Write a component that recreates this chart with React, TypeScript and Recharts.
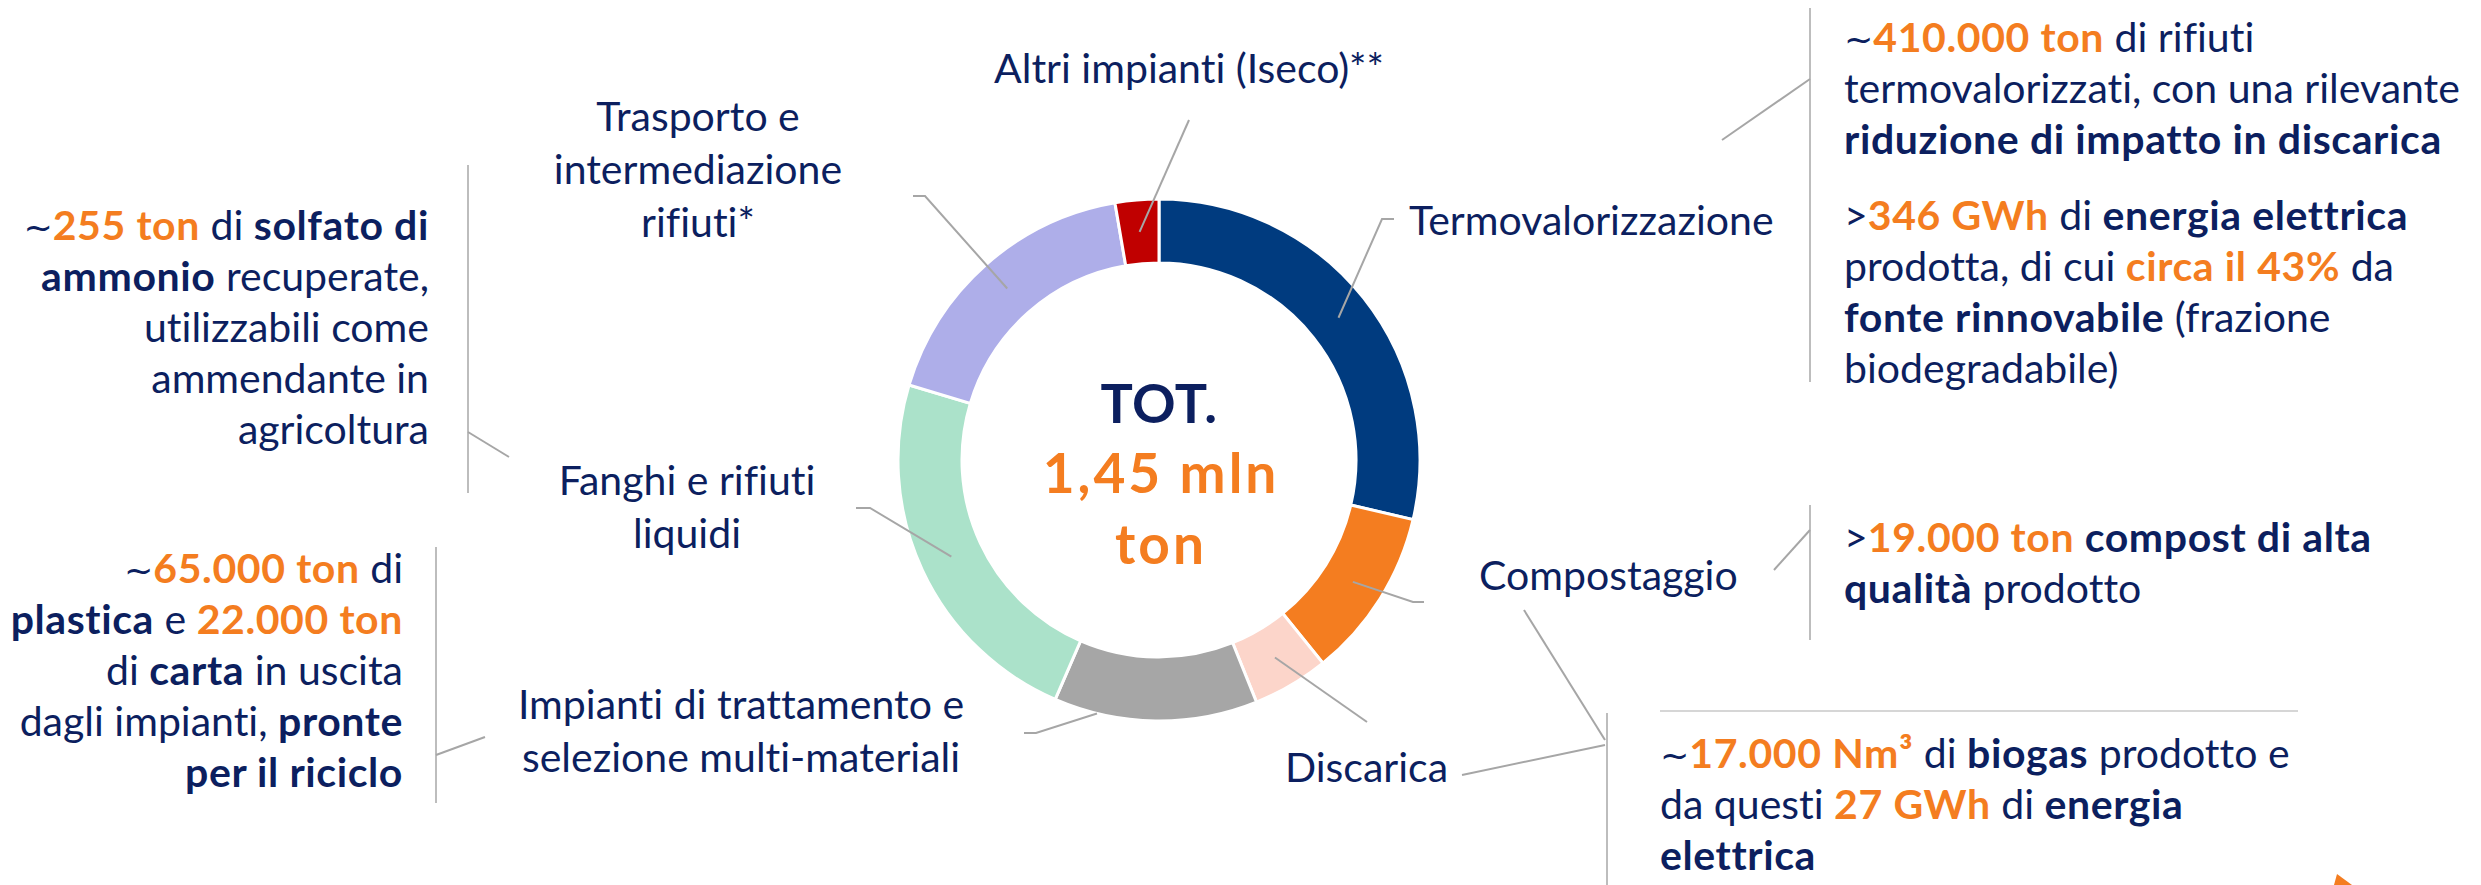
import React from "react";
import { Cell, Pie, PieChart } from "recharts";

const segmentNames = [
  "Termovalorizzazione",
  "Compostaggio",
  "Discarica",
  "Impianti di trattamento e selezione multi-materiali",
  "Fanghi e rifiuti liquidi",
  "Trasporto e intermediazione rifiuti*",
  "Altri impianti (Iseco)**",
];

const segmentValues = [414, 152, 68, 182, 334, 255, 39];

const segmentColors = [
  "#003b7f",
  "#f47d20",
  "#fcd5ca",
  "#a6a6a6",
  "#abe2ca",
  "#aeaee9",
  "#c00000",
];

const segmentLabelLines = [
  ["Termovalorizzazione"],
  ["Compostaggio"],
  ["Discarica"],
  ["Impianti di trattamento e", "selezione multi-materiali"],
  ["Fanghi e rifiuti", "liquidi"],
  ["Trasporto e", "intermediazione", "rifiuti*"],
  ["Altri impianti (Iseco)**"],
];

const totalLines = ["TOT.", "1,45 mln", "ton"];

type Run = [string, "n" | "b" | "o"];

const noteTermo: Run[][] = [
  [["~", "n"], ["410.000 ton", "o"], [" di rifiuti", "n"]],
  [["termovalorizzati, con una rilevante", "n"]],
  [["riduzione di impatto in discarica", "b"]],
];

const noteEnergia: Run[][] = [
  [[">", "n"], ["346 GWh", "o"], [" di ", "n"], ["energia elettrica", "b"]],
  [["prodotta, di cui ", "n"], ["circa il 43%", "o"], [" da", "n"]],
  [["fonte rinnovabile", "b"], [" (frazione", "n"]],
  [["biodegradabile)", "n"]],
];

const noteCompost: Run[][] = [
  [[">", "n"], ["19.000 ton", "o"], [" ", "n"], ["compost di alta", "b"]],
  [["qualità", "b"], [" prodotto", "n"]],
];

const noteBiogas: Run[][] = [
  [["~", "n"], ["17.000 Nm³", "o"], [" di ", "n"], ["biogas", "b"], [" prodotto e", "n"]],
  [["da questi ", "n"], ["27 GWh", "o"], [" di ", "n"], ["energia", "b"]],
  [["elettrica", "b"]],
];

const noteSolfato: Run[][] = [
  [["~", "n"], ["255 ton", "o"], [" di ", "n"], ["solfato di", "b"]],
  [["ammonio", "b"], [" recuperate,", "n"]],
  [["utilizzabili come", "n"]],
  [["ammendante in", "n"]],
  [["agricoltura", "n"]],
];

const notePlastica: Run[][] = [
  [["~", "n"], ["65.000 ton", "o"], [" di", "n"]],
  [["plastica", "b"], [" e ", "n"], ["22.000 ton", "o"]],
  [["di ", "n"], ["carta", "b"], [" in uscita", "n"]],
  [["dagli impianti, ", "n"], ["pronte", "b"]],
  [["per il riciclo", "b"]],
];

const W = 2481;
const H = 885;
const NAVY = "#0c1f5f";
const ORANGE = "#f47d20";
const LEADER = "#a6a6a6";
const RULE = "#bdbdbd";
const FONT = "Lato, 'Source Sans Pro', sans-serif";
const FS = 41;
const LH = 51;
const NO_LIGA = { fontVariantLigatures: "none", whiteSpace: "pre" } as const;

// posizione delle etichette degli spicchi e dei loro richiami
const labelLayout = [
  { x: 1409, y: 235, anchor: "start", path: [[1382, 219], [1394, 219]] },
  { x: 1479, y: 590, anchor: "start", path: [[1413, 602], [1424, 602]] },
  { x: 1285, y: 782, anchor: "start", path: [[1367, 722]] },
  { x: 741, y: 719, anchor: "middle", path: [[1036, 733], [1024, 733]], shift: -13, radius: 1 },
  { x: 687, y: 495, anchor: "middle", path: [[870, 508], [856, 508]] },
  { x: 698, y: 131, anchor: "middle", path: [[925, 196], [913, 196]] },
  { x: 1189, y: 83, anchor: "middle", path: [[1189, 120]] },
];

const RAD = Math.PI / 180;

function SliceLabel(props: any) {
  const { cx, cy, midAngle, innerRadius, outerRadius, index } = props;
  const lay: any = labelLayout[index];
  const ang = midAngle + (lay.shift || 0);
  const r =
    lay.radius === 1
      ? outerRadius
      : (innerRadius + outerRadius) / 2;
  const x0 = cx + r * Math.cos(-ang * RAD);
  const y0 = cy + r * Math.sin(-ang * RAD);
  const pts = [[x0, y0], ...lay.path]
    .map((p: number[]) => p.join(","))
    .join(" ");
  return (
    <g>
      <polyline
        points={pts}
        fill="none"
        stroke={LEADER}
        strokeWidth={2}
      />
      {segmentLabelLines[index].map((line, i) => (
        <text
          key={i}
          x={lay.x}
          y={lay.y + i * 53}
          textAnchor={lay.anchor}
          fill={NAVY}
          fontFamily={FONT}
          fontSize={FS}
          style={NO_LIGA}
        >
          {line}
        </text>
      ))}
    </g>
  );
}

function Note({
  lines,
  x,
  y,
  anchor = "start",
  gap = LH,
}: {
  lines: Run[][];
  x: number;
  y: number;
  anchor?: "start" | "end";
  gap?: number;
}) {
  return (
    <g>
      {lines.map((runs, i) => (
        <text
          key={i}
          x={x}
          y={y + i * gap}
          textAnchor={anchor}
          fontFamily={FONT}
          fontSize={FS}
          style={NO_LIGA}
        >
          {runs.map(([t, k], j) => (
            <tspan
              key={j}
              fill={k === "o" ? ORANGE : NAVY}
              fontWeight={k === "n" ? 400 : 700}
              letterSpacing={k === "n" ? 0 : 0.6}
              fontFamily={t === "~" ? "'DejaVu Sans', sans-serif" : undefined}
              fontSize={t === "~" ? 35 : undefined}
            >
              {t}
            </tspan>
          ))}
        </text>
      ))}
    </g>
  );
}

function Line({ d, color = RULE }: { d: number[][]; color?: string }) {
  return (
    <polyline
      points={d.map((p) => p.join(",")).join(" ")}
      fill="none"
      stroke={color}
      strokeWidth={2}
    />
  );
}

export default function App() {
  const data = segmentNames.map((name, i) => ({
    name,
    value: segmentValues[i],
  }));

  return (
    <div
      style={{
        position: "absolute",
        left: 0,
        top: 0,
        width: W,
        height: H,
        background: "#fff",
        overflow: "hidden",
      }}
    >
      <PieChart
        width={W}
        height={H}
        margin={{ top: 0, right: 0, bottom: 0, left: 0 }}
      >
        <Pie
          data={data}
          dataKey="value"
          nameKey="name"
          cx={1159}
          cy={460}
          innerRadius={197}
          outerRadius={261}
          startAngle={90}
          endAngle={-270}
          stroke="#ffffff"
          strokeWidth={3}
          label={SliceLabel}
          labelLine={false}
          isAnimationActive={false}
        >
          {data.map((d, i) => (
            <Cell key={d.name} fill={segmentColors[i]} />
          ))}
        </Pie>
      </PieChart>

      <svg
        width={W}
        height={H}
        style={{ position: "absolute", left: 0, top: 0, pointerEvents: "none" }}
      >
        <g fontFamily={FONT} fontWeight={700} textAnchor="middle">
          <text x={1159} y={423} fontSize={54} fill={NAVY} letterSpacing={0.5}>
            {totalLines[0]}
          </text>
          <text x={1161} y={493} fontSize={55} fill={ORANGE} letterSpacing={3}>
            {totalLines[1]}
          </text>
          <text x={1161} y={564} fontSize={55} fill={ORANGE} letterSpacing={3}>
            {totalLines[2]}
          </text>
        </g>

        {/* blocco in alto a destra */}
        <Line d={[[1810, 8], [1810, 382]]} />
        <Line d={[[1722, 140], [1810, 79]]} color={LEADER} />
        <Note lines={noteTermo} x={1844} y={52} />
        <Note lines={noteEnergia} x={1844} y={230} />

        {/* compost */}
        <Line d={[[1810, 505], [1810, 640]]} />
        <Line d={[[1774, 570], [1810, 530]]} color={LEADER} />
        <Note lines={noteCompost} x={1844} y={552} />

        {/* biogas */}
        <Line d={[[1660, 711], [2298, 711]]} color="#d6d6d6" />
        <Line d={[[1607, 713], [1607, 885]]} />
        <Line d={[[1524, 610], [1605, 740]]} color={LEADER} />
        <Line d={[[1462, 775], [1605, 745]]} color={LEADER} />
        <Note lines={noteBiogas} x={1660} y={768} />
        <path d="M2334 885 L2337 874 L2352 885 Z" fill={ORANGE} />

        {/* blocchi a sinistra */}
        <Line d={[[468, 165], [468, 493]]} />
        <Line d={[[468, 432], [509, 457]]} color={LEADER} />
        <Note lines={noteSolfato} x={429} y={240} anchor="end" />

        <Line d={[[436, 547], [436, 803]]} />
        <Line d={[[436, 755], [485, 737]]} color={LEADER} />
        <Note lines={notePlastica} x={403} y={583} anchor="end" gap={51} />
      </svg>
    </div>
  );
}
